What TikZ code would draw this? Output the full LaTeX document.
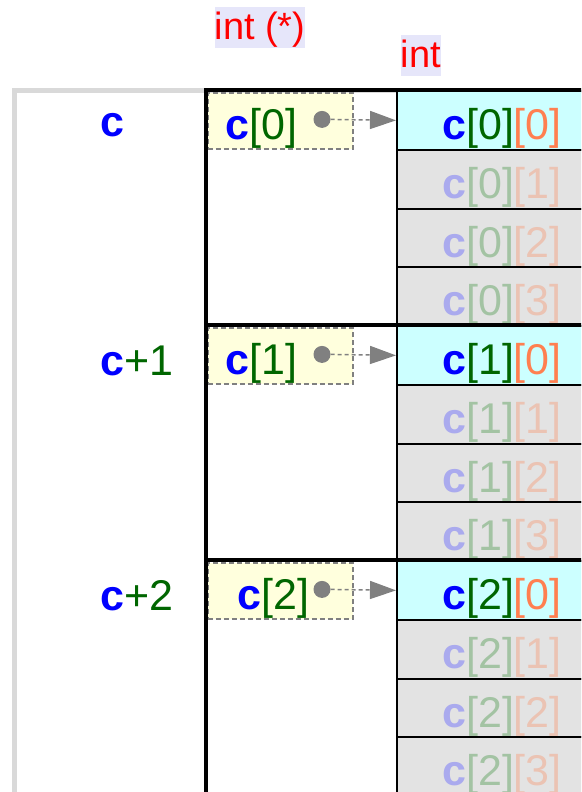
\documentclass[tikz,border=0pt]{standalone}
\usepackage{fontspec}
\setmainfont{Liberation Sans}
\usetikzlibrary{arrows.meta}
\definecolor{cblue}{HTML}{0000FF}
\definecolor{cgreen}{HTML}{006600}
\definecolor{corange}{HTML}{FF7F50}
\definecolor{fblue}{HTML}{AAAAEE}
\definecolor{fgreen}{HTML}{A3C3A3}
\definecolor{forange}{HTML}{EBC3B3}
\definecolor{framegray}{HTML}{D9D9D9}
\definecolor{ptrfill}{HTML}{FFFFDD}
\definecolor{cyanfill}{HTML}{CCFFFF}
\definecolor{cellgray}{HTML}{E3E3E3}
\definecolor{labelbg}{HTML}{E6E6FA}
\definecolor{dotgray}{HTML}{808080}
\newcommand{\hiel}[2]{{\color{cblue}\bfseries c}{\color{cgreen}[#1]}{\color{corange}[#2]}}
\newcommand{\loel}[2]{{\color{fblue}\bfseries c}{\color{fgreen}[#1]}{\color{forange}[#2]}}
\newcommand{\ptrel}[1]{{\color{cblue}\bfseries c}{\color{cgreen}[#1]}}
\begin{document}
\begin{tikzpicture}[x=1pt,y=-1pt,
  font=\fontsize{43}{50}\selectfont,
  cellbase/.style={draw=black, line width=2pt, inner xsep=0pt, inner ysep=0pt,
     minimum width=210pt, text height=48.5pt, text depth=10.25pt, anchor=north west},
  cellhi/.style={cellbase, fill=cyanfill},
  celllo/.style={cellbase, fill=cellgray},
  ptrbox/.style={draw=dotgray, dash pattern=on 5pt off 3pt, line width=1.5pt, fill=ptrfill,
     minimum width=145pt, minimum height=56pt, inner sep=0pt, anchor=north west},
  grpline/.style={line width=3.5pt, black, line join=miter},
  dotnode/.style={circle, fill=dotgray, inner sep=0pt, minimum size=17pt},
  ptrarrow/.style={dotgray, line width=1.5pt, dash pattern=on 4pt off 3pt,
     -{Triangle[length=26pt, width=18pt]}},
  typelabel/.style={fill=labelbg, text=red, inner xsep=0pt, inner ysep=0pt,
     font=\fontsize{38}{44}\selectfont, anchor=base}
]
\useasboundingbox (0,0) rectangle (581,792);
\clip (0,0) rectangle (581,792);
% outer gray frame
\draw[framegray, line width=5pt] (14,820) -- (14,90.5) -- (620,90.5);
\foreach \g/\T/\px in {0/90/261.5, 1/325/261.5, 2/560/273.5}{
  % pointer box
  \node[ptrbox] (p\g) at (207,\T+2) {};
  \node[anchor=base, inner sep=0pt] (pt\g) at (\px,\T+49.5) {\ptrel{\g}};
  % int cells
  \node[cellhi] (cell\g0) at (396,\T) {\hiel{\g}{0}};
  \node[celllo] (cell\g1) at (396,\T+58.75) {\loel{\g}{1}};
  \node[celllo] (cell\g2) at (396,\T+117.5) {\loel{\g}{2}};
  \node[celllo] (cell\g3) at (396,\T+176.25) {\loel{\g}{3}};
  % group frame
  \draw[grpline] (206,\T+237) -- (206,\T) -- (620,\T);
  % dot and arrow
  \node[dotnode] (d\g) at (322,\T+29.4) {};
  \draw[ptrarrow] (d\g.east) -- (cell\g0.west);
}
% left labels
\node[anchor=base west, inner sep=0pt] (lab0) at (100,136.5) {\color{cblue}\bfseries c};
\node[anchor=base west, inner sep=0pt] (lab1) at (100,375) {{\color{cblue}\bfseries c}{\color{cgreen}+1}};
\node[anchor=base west, inner sep=0pt] (lab2) at (100,610) {{\color{cblue}\bfseries c}{\color{cgreen}+2}};
% type labels
\node[typelabel, text height=33pt, text depth=8pt] (tptr) at (260,40) {int (*)};
\node[typelabel, text height=32pt, text depth=9pt] (tint) at (421,67) {int};
\end{tikzpicture}
\end{document}
